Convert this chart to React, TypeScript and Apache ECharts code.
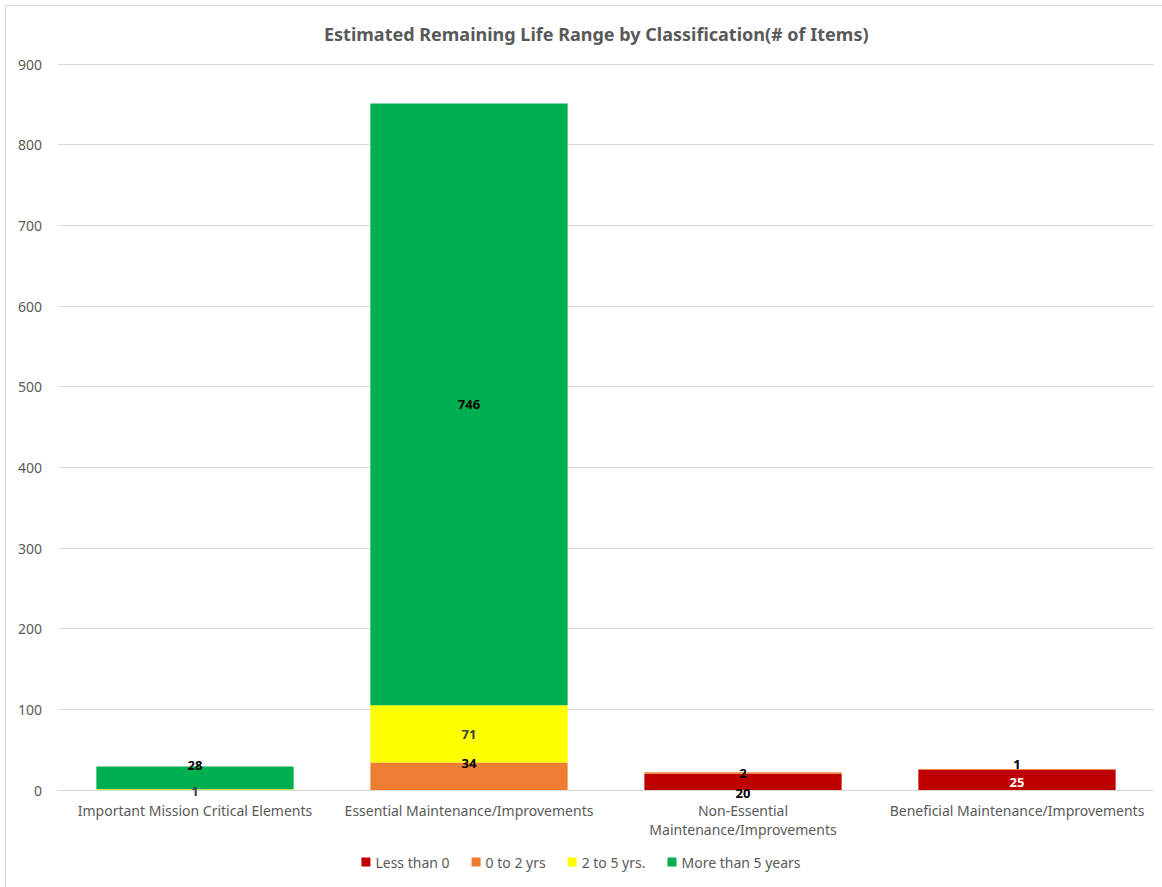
import React, { useEffect, useRef } from "react";
import * as echarts from "echarts";

const categories = [
  "Important Mission Critical Elements",
  "Essential Maintenance/Improvements",
  "Non-Essential Maintenance/Improvements",
  "Beneficial Maintenance/Improvements",
];
const seriesNames = ["Less than 0", "0 to 2 yrs", "2 to 5 yrs.", "More than 5 years"];
const lessThan0 = [0, 0, 20, 25];
const zeroTo2 = [0, 34, 2, 1];
const twoTo5 = [1, 71, 0, 0];
const moreThan5 = [28, 746, 0, 0];
const colors = ["#C00000", "#ED7D31", "#FFFF00", "#00B050"];
const labelColors = ["#000000", "#000000", "#404040", "#000000"];
// per-item label vertical nudges
const labelOffsets: number[][] = [
  [0, 0, 11, 2],
  [0, -13, 0, -5],
  [1, 0, 0, 0],
  [-13, 0, 0, 0],
];
const labelColorOverride: (string | null)[][] = [
  [null, null, null, "#FFFFFF"],
  [null, null, null, null],
  [null, null, null, null],
  [null, null, null, null],
];

const FONT = "'Noto Sans', 'Open Sans', sans-serif";

export default function App() {
  const ref = useRef<HTMLDivElement>(null);
  useEffect(() => {
    if (!ref.current) return;
    const chart = echarts.init(ref.current, undefined, { renderer: "svg" });
    const all = [lessThan0, zeroTo2, twoTo5, moreThan5];
    const series = all.map((vals, si) => ({
      name: seriesNames[si],
      type: "bar",
      stack: "total",
      barCategoryGap: "28%",
      itemStyle: { color: colors[si] },
      data: vals.map((v, ci) => ({
        value: v,
        label: {
          show: v > 0,
          position: "inside",
          offset: [0, labelOffsets[si][ci]],
          color: labelColorOverride[si][ci] || labelColors[si],
          fontWeight: "bold",
          fontSize: 13,
          fontFamily: FONT,
        },
      })),
    }));
    chart.setOption({
      animation: false,
      backgroundColor: "#ffffff",
      title: {
        text: "Estimated Remaining Life Range by Classification(# of Items)",
        left: 319,
        top: 20,
        textStyle: { color: "#595959", fontSize: 18, fontWeight: "bold", fontFamily: FONT },
      },
      legend: {
        bottom: 13,
        left: "center",
        icon: "rect",
        itemWidth: 9,
        itemHeight: 9,
        itemGap: 22,
        itemTextGap: 6,
        textStyle: { color: "#595959", fontSize: 14, fontFamily: FONT },
        data: seriesNames,
      },
      grid: { left: 58, right: 8, top: 64, bottom: 97, containLabel: false },
      xAxis: {
        type: "category",
        data: categories,
        axisLine: { lineStyle: { color: "#D9D9D9" } },
        axisTick: { show: false },
        axisLabel: {
          color: "#595959",
          fontSize: 14,
          fontFamily: FONT,
          interval: 0,
          margin: 11,
          lineHeight: 19,
          formatter: (v: string) => (v === categories[2] ? v.replace(" ", "\n") : v),
        },
      },
      yAxis: {
        type: "value",
        min: 0,
        max: 900,
        interval: 100,
        axisLine: { show: false },
        axisTick: { show: false },
        splitLine: { lineStyle: { color: "#D9D9D9" } },
        axisLabel: { color: "#595959", fontSize: 14, fontFamily: FONT, margin: 16 },
      },
      graphic: [
        { type: "line", shape: { x1: 5.5, y1: 5.5, x2: 1162, y2: 5.5 }, style: { stroke: "#D9D9D9", lineWidth: 1 } },
        { type: "line", shape: { x1: 5.5, y1: 5.5, x2: 5.5, y2: 887 }, style: { stroke: "#D9D9D9", lineWidth: 1 } },
      ],
      series,
    });
    return () => chart.dispose();
  }, []);
  return (
    <div
      ref={ref}
      style={{ position: "fixed", left: 0, top: 0, width: 1162, height: 887, background: "#fff" }}
    />
  );
}
